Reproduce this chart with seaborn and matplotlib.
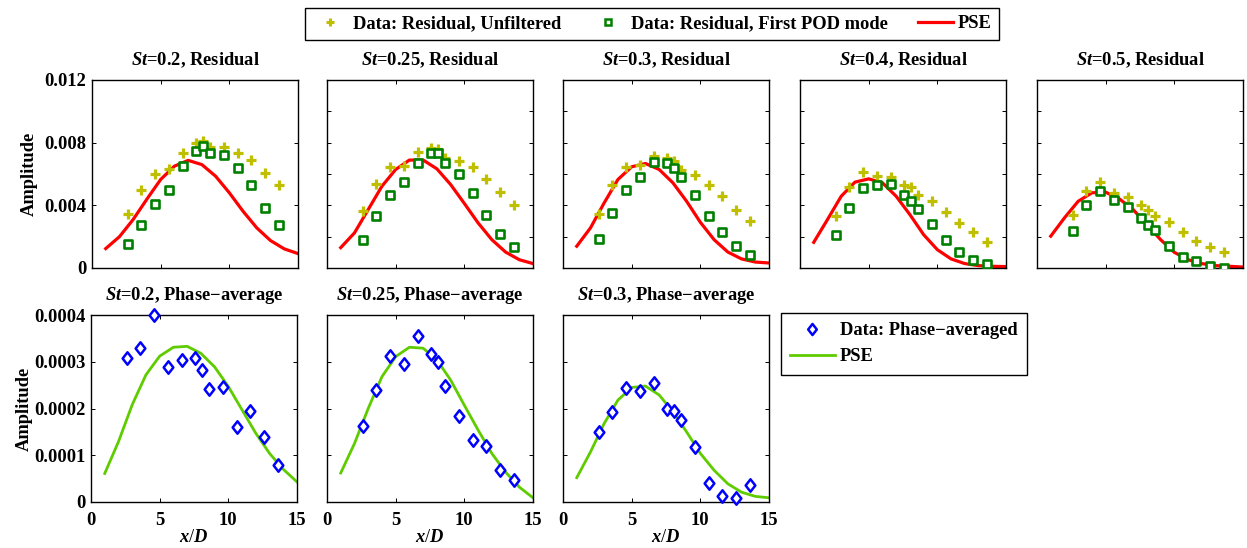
import numpy as np
import matplotlib
matplotlib.use("Agg")
import matplotlib.pyplot as plt
import seaborn as sns
from matplotlib.path import Path
from matplotlib.lines import Line2D

# ---------------- data ----------------
X_DATA = [2.6, 3.6, 4.6, 5.6, 6.6, 7.6, 8.1, 8.6, 9.6, 10.6, 11.6, 12.6, 13.6]
X_PSE = [1, 2, 3, 4, 5, 6, 7, 8, 9, 10, 11, 12, 13, 14, 15]

ST_TOP = ["0.2", "0.25", "0.3", "0.4", "0.5"]
ST_BOTTOM = ["0.2", "0.25", "0.3"]

# residual amplitudes, in units of 1e-3
UNF_02 = [3.45, 4.95, 6.03, 6.29, 7.31, 7.95, 8.10, 7.75, 7.72, 7.31, 6.87, 6.06, 5.31]
UNF_025 = [3.67, 5.39, 6.42, 6.52, 7.40, 7.63, 7.61, 7.00, 6.80, 6.42, 5.69, 4.82, 4.03]
UNF_03 = [3.45, 5.29, 6.46, 6.55, 7.14, 7.04, 6.82, 6.23, 5.93, 5.29, 4.58, 3.73, 2.99]
UNF_04 = [3.35, 5.20, 6.14, 5.86, 5.82, 5.29, 5.16, 4.69, 4.26, 3.58, 2.88, 2.28, 1.68]
UNF_05 = [3.37, 4.90, 5.48, 4.80, 4.54, 4.05, 3.69, 3.35, 2.92, 2.28, 1.75, 1.34, 1.02]

POD_02 = [1.51, 2.75, 4.09, 4.99, 6.48, 7.44, 7.78, 7.31, 7.19, 6.40, 5.29, 3.84, 2.73]
POD_025 = [1.81, 3.30, 4.67, 5.48, 6.72, 7.36, 7.36, 6.72, 5.97, 4.78, 3.37, 2.17, 1.32]
POD_03 = [1.88, 3.52, 5.01, 5.80, 6.76, 6.72, 6.38, 5.80, 4.65, 3.35, 2.28, 1.43, 0.85]
POD_04 = [2.13, 3.84, 5.12, 5.27, 5.39, 4.63, 4.26, 3.77, 2.84, 1.81, 1.02, 0.53, 0.26]
POD_05 = [2.39, 4.05, 4.90, 4.33, 3.88, 3.20, 2.75, 2.41, 1.39, 0.70, 0.43, 0.15, 0.02]

PSE_02 = [1.24, 2.00, 3.10, 4.40, 5.65, 6.50, 6.87, 6.60, 5.86, 4.80, 3.62, 2.56, 1.75, 1.22, 0.92]
PSE_025 = [1.30, 2.24, 3.73, 5.22, 6.29, 6.89, 6.89, 6.33, 5.33, 4.12, 2.88, 1.81, 1.02, 0.53, 0.28]
PSE_03 = [1.39, 2.56, 4.16, 5.65, 6.46, 6.67, 6.29, 5.44, 4.26, 2.92, 1.81, 1.02, 0.58, 0.38, 0.32]
PSE_04 = [1.64, 3.09, 4.58, 5.48, 5.69, 5.44, 4.58, 3.41, 2.13, 1.17, 0.58, 0.28, 0.15, 0.11, 0.09]
PSE_05 = [2.03, 3.20, 4.26, 4.80, 4.84, 4.41, 3.73, 2.77, 1.81, 1.00, 0.53, 0.28, 0.15, 0.11, 0.06]

# phase-averaged amplitudes, in units of 1e-4
PA_02 = [3.07, 3.30, 4.00, 2.88, 3.03, 3.07, 2.82, 2.42, 2.47, 1.61, 1.95, 1.40, 0.80]
PA_025 = [1.63, 2.39, 3.12, 2.95, 3.56, 3.16, 2.99, 2.48, 1.84, 1.32, 1.20, 0.68, 0.48]
PA_03 = [1.50, 1.93, 2.43, 2.37, 2.54, 2.00, 1.94, 1.75, 1.18, 0.41, 0.12, 0.09, 0.37]

PSEPA_02 = [0.61, 1.29, 2.08, 2.72, 3.12, 3.31, 3.33, 3.18, 2.89, 2.47, 1.97, 1.47, 1.04, 0.70, 0.43]
PSEPA_025 = [0.62, 1.25, 2.00, 2.68, 3.11, 3.31, 3.29, 3.04, 2.61, 2.07, 1.54, 1.04, 0.64, 0.32, 0.09]
PSEPA_03 = [0.52, 1.07, 1.68, 2.18, 2.45, 2.48, 2.29, 1.93, 1.50, 1.04, 0.68, 0.39, 0.21, 0.12, 0.09]

UNF = [UNF_02, UNF_025, UNF_03, UNF_04, UNF_05]
POD = [POD_02, POD_025, POD_03, POD_04, POD_05]
PSE = [PSE_02, PSE_025, PSE_03, PSE_04, PSE_05]
PA = [PA_02, PA_025, PA_03]
PSEPA = [PSEPA_02, PSEPA_025, PSEPA_03]

TOP_YTICKS_LABELED = [0, 0.004, 0.008, 0.012]
TOP_YTICKLABELS = ["0", "0.004", "0.008", "0.012"]
TOP_YTICKS_MINOR = [0, 0.002, 0.004, 0.006, 0.008, 0.010, 0.012]
BOT_YTICKS = [0, 0.0001, 0.0002, 0.0003, 0.0004]
BOT_YTICKLABELS = ["0", "0.0001", "0.0002", "0.0003", "0.0004"]
XTICKS = [0, 5, 10, 15]
XTICKLABELS = ["0", "5", "10", "15"]

# ---------------- style ----------------
FS = 13.3
plt.rcParams.update({
    "font.family": ["Liberation Serif", "DejaVu Serif"],
    "font.weight": "bold",
    "font.size": FS,
    "mathtext.fontset": "custom",
    "mathtext.rm": "Liberation Serif:bold",
    "mathtext.bf": "Liberation Serif:bold",
    "mathtext.it": "Liberation Serif:italic:bold",
    "axes.linewidth": 1.0,
    "axes.edgecolor": "black",
    "xtick.direction": "in",
    "ytick.direction": "in",
    "xtick.top": True,
    "ytick.right": True,
    "xtick.major.size": 3,
    "ytick.major.size": 3,
    "xtick.major.width": 0.7,
    "ytick.major.width": 0.7,
    "xtick.major.pad": 7,
    "ytick.major.pad": 4,
    "xtick.labelsize": FS,
    "ytick.labelsize": FS,
})

YEL = "#bfbf00"
GRN = "#008000"
RED = "#ff0000"
BLUE = "#0000ff"
LIME = "#5fcc00"

DIAMOND = Path([(0, 1), (0.78, 0), (0, -1), (-0.78, 0), (0, 1)],
               [Path.MOVETO, Path.LINETO, Path.LINETO, Path.LINETO, Path.CLOSEPOLY])

W, H = 1247, 548
fig = plt.figure(figsize=(W / 100, H / 100), dpi=100)

top_lefts = [92, 327, 563, 800, 1037]
bot_lefts = [91, 327, 563]
aw = 206


def add_ax(left, top, bottom):
    return fig.add_axes([left / W, 1 - bottom / H, aw / W, (bottom - top) / H])


def title(ax, st, kind):
    ax.set_title(r"$\mathit{St}$=" + st + ", " + kind, fontsize=FS,
                 fontweight="bold", pad=10.5)


for i, st in enumerate(ST_TOP):
    ax = add_ax(top_lefts[i], 80, 268)
    sns.lineplot(x=X_PSE, y=np.array(PSE[i]) * 1e-3, ax=ax, color=RED,
                 linewidth=2.3, zorder=2)
    sns.scatterplot(x=X_DATA, y=np.array(UNF[i]) * 1e-3, ax=ax, marker="+",
                    s=55, color=YEL, linewidth=2.3, zorder=3)
    sns.scatterplot(x=X_DATA, y=np.array(POD[i]) * 1e-3, ax=ax, marker="s",
                    s=34, color=GRN, facecolor="white", edgecolor=GRN,
                    linewidth=1.9, zorder=4)
    ax.set_xlim(0, 15)
    ax.set_ylim(0, 0.012)
    ax.set_xticks(XTICKS)
    ax.set_xticklabels([])
    if i == 0:
        ax.set_yticks(TOP_YTICKS_LABELED)
        ax.set_yticklabels(TOP_YTICKLABELS)
        ax.set_ylabel("Amplitude", fontsize=FS, fontweight="bold", labelpad=5)
    else:
        ax.set_yticks(TOP_YTICKS_MINOR)
        ax.set_yticklabels([])
        ax.set_ylabel("")
    ax.set_xlabel("")
    title(ax, st, "Residual")
    if ax.get_legend() is not None:
        ax.get_legend().remove()

for i, st in enumerate(ST_BOTTOM):
    ax = add_ax(bot_lefts[i], 315, 502)
    sns.lineplot(x=X_PSE, y=np.array(PSEPA[i]) * 1e-4, ax=ax, color=LIME,
                 linewidth=2.0, zorder=2)
    sns.scatterplot(x=X_DATA, y=np.array(PA[i]) * 1e-4, ax=ax, marker=DIAMOND,
                    s=80, color=BLUE, facecolor="white", edgecolor=BLUE,
                    linewidth=1.8, zorder=3, clip_on=False)
    ax.set_xlim(0, 15)
    ax.set_ylim(0, 0.0004)
    ax.set_xticks(XTICKS)
    ax.set_xticklabels(XTICKLABELS)
    ax.set_yticks(BOT_YTICKS)
    if i == 0:
        ax.set_yticklabels(BOT_YTICKLABELS)
        ax.set_ylabel("Amplitude", fontsize=FS, fontweight="bold", labelpad=1)
    else:
        ax.set_yticklabels([])
        ax.set_ylabel("")
    ax.set_xlabel(r"$\mathit{x}$/$\mathit{D}$", fontsize=FS, labelpad=0)
    title(ax, st, "Phase\u2212average")
    if ax.get_legend() is not None:
        ax.get_legend().remove()

# ---------------- legends ----------------
h1 = [
    Line2D([], [], linestyle="none", marker="+", markersize=6,
           markeredgewidth=2.2, color=YEL),
    Line2D([], [], linestyle="none", marker="s", markersize=5,
           markerfacecolor="white", markeredgecolor=GRN, markeredgewidth=1.8),
    Line2D([], [], color=RED, linewidth=2.3),
]
l1 = ["Data: Residual, Unfiltered", "Data: Residual, First POD mode", "PSE"]
leg1 = fig.legend(h1, l1, loc="upper center", bbox_to_anchor=(652 / W, 1 - 8 / H),
                  ncol=3, frameon=True, fancybox=False, edgecolor="black",
                  framealpha=1, borderaxespad=0, handlelength=1.9,
                  handletextpad=0.3, columnspacing=1.6, borderpad=0.4,
                  prop={"weight": "bold", "size": FS})
leg1.get_frame().set_linewidth(1.0)

h2 = [
    Line2D([], [], linestyle="none", marker=DIAMOND, markersize=8,
           markerfacecolor="white", markeredgecolor=BLUE, markeredgewidth=1.8),
    Line2D([], [], color=LIME, linewidth=2.0),
]
l2 = ["Data: Phase\u2212averaged", "PSE"]
leg2 = fig.legend(h2, l2, loc="upper left", bbox_to_anchor=(781 / W, 1 - 313 / H),
                  ncol=1, frameon=True, fancybox=False, edgecolor="black",
                  framealpha=1, borderaxespad=0, handlelength=2.4,
                  handletextpad=0.3, borderpad=0.5, labelspacing=0.5,
                  prop={"weight": "bold", "size": FS})
leg2.get_frame().set_linewidth(1.0)

fig.savefig("out.png", dpi=100)
